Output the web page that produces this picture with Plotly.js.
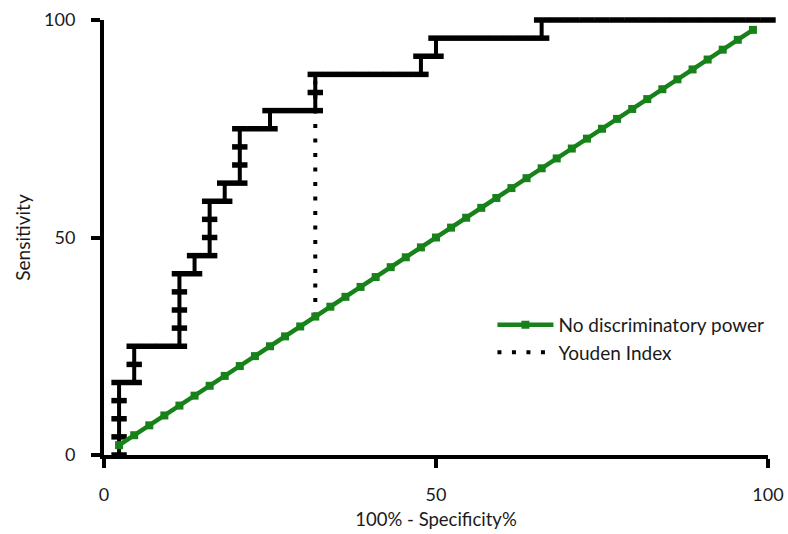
<!DOCTYPE html>
<html>
<head>
<meta charset="utf-8">
<script src="https://cdn.plot.ly/plotly-3.0.1.min.js"></script>
<style>html,body{margin:0;padding:0;background:#fff;}#chart{width:788px;height:534px;}</style>
</head>
<body>
<div id="chart"></div>
<script>
// ROC curve points (100% - Specificity%, Sensitivity%)
const rocX = [2.27,2.27,2.27,2.27,2.27, 4.55,4.55,4.55, 6.82, 9.09,
  11.36,11.36,11.36,11.36,11.36, 13.64,13.64, 15.91,15.91,15.91,15.91,
  18.18,18.18, 20.45,20.45,20.45,20.45, 22.73, 25.00,25.00, 27.27, 29.55,
  31.82,31.82,31.82, 34.09,36.36,38.64,40.91,43.18,45.45, 47.73,47.73,
  50.00,50.00, 52.27,54.55,56.82,59.09,61.36,63.64, 65.91,65.91,
  68.18,70.45,72.73,75.00,77.27,79.55,81.82,84.09,86.36,88.64,90.91,93.18,95.45,97.73,100.00];
const rocY = [0,4.17,8.33,12.50,16.67, 16.67,20.83,25.00, 25.00, 25.00,
  25.00,29.17,33.33,37.50,41.67, 41.67,45.83, 45.83,50.00,54.17,58.33,
  58.33,62.50, 62.50,66.67,70.83,75.00, 75.00, 75.00,79.17, 79.17, 79.17,
  79.17,83.33,87.50, 87.50,87.50,87.50,87.50,87.50,87.50, 87.50,91.67,
  91.67,95.83, 95.83,95.83,95.83,95.83,95.83,95.83, 95.83,100,
  100,100,100,100,100,100,100,100,100,100,100,100,100,100,100];

// Line of no discrimination
const diagX = [2.27,4.55,6.82,9.09,11.36,13.64,15.91,18.18,20.45,22.73,25.00,27.27,29.55,31.82,34.09,36.36,38.64,40.91,43.18,45.45,47.73,50.00,52.27,54.55,56.82,59.09,61.36,63.64,65.91,68.18,70.45,72.73,75.00,77.27,79.55,81.82,84.09,86.36,88.64,90.91,93.18,95.45,97.73];
const diagY = [2.27,4.55,6.82,9.09,11.36,13.64,15.91,18.18,20.45,22.73,25.00,27.27,29.55,31.82,34.09,36.36,38.64,40.91,43.18,45.45,47.73,50.00,52.27,54.55,56.82,59.09,61.36,63.64,65.91,68.18,70.45,72.73,75.00,77.27,79.55,81.82,84.09,86.36,88.64,90.91,93.18,95.45,97.73];

// Youden index segment
const youdenX = [31.82, 31.82];
const youdenY = [31.82, 87.50];

const tickVals = [0, 50, 100];
const tickText = ['0', '50', '100'];

const font = 'Lato, "Open Sans", sans-serif';
const txt = '#1a1a1a';
const green = '#17821a';

const traces = [
  {
    x: youdenX, y: youdenY, type: 'scatter', mode: 'lines',
    name: 'Youden Index', legendrank: 2,
    line: {color: '#000', width: 4, dash: '4px,10.5px'},
    cliponaxis: false, hoverinfo: 'skip'
  },
  {
    x: rocX, y: rocY, type: 'scatter', mode: 'lines+markers',
    name: 'ROC', showlegend: false,
    line: {color: '#000', width: 4},
    marker: {symbol: 'line-ew', size: 11, color: '#000', line: {color: '#000', width: 5.5}},
    cliponaxis: false
  },
  {
    x: diagX, y: diagY, type: 'scatter', mode: 'lines+markers',
    name: 'No discriminatory power', legendrank: 1,
    line: {color: green, width: 4.5},
    marker: {symbol: 'square', size: 8, color: green},
    cliponaxis: false
  }
];

const layout = {
  width: 788, height: 534,
  margin: {l: 104, r: 20, t: 20, b: 79},
  paper_bgcolor: '#fff', plot_bgcolor: '#fff',
  font: {family: font, size: 18, color: txt},
  showlegend: true,
  legend: {
    x: 0.585, y: 0.343, xanchor: 'left', yanchor: 'top',
    font: {family: font, size: 19, color: txt},
    bgcolor: 'rgba(0,0,0,0)', itemwidth: 56, tracegroupgap: 0
  },
  xaxis: {
    range: [0, 100], tickvals: tickVals, ticktext: tickText,
    showline: true, linecolor: '#000', linewidth: 4,
    ticks: 'outside', ticklen: 9, tickwidth: 4, tickcolor: '#000',
    showgrid: false, zeroline: false, ticklabelstandoff: 11,
    tickfont: {family: font, size: 18, color: txt},
    title: {text: '100% - Specificity%', font: {family: font, size: 18.5, color: txt}, standoff: 10},
    fixedrange: true
  },
  yaxis: {
    range: [0, 100], tickvals: tickVals, ticktext: tickText,
    showline: true, linecolor: '#000', linewidth: 4,
    ticks: 'outside', ticklen: 9, tickwidth: 4, tickcolor: '#000',
    showgrid: false, zeroline: false, ticklabelstandoff: 12,
    tickfont: {family: font, size: 18, color: txt},
    title: {text: 'Sensitivity', font: {family: font, size: 19, color: txt}, standoff: 9},
    fixedrange: true
  }
};

Plotly.newPlot('chart', traces, layout, {displayModeBar: false, staticPlot: true});
</script>
</body>
</html>
